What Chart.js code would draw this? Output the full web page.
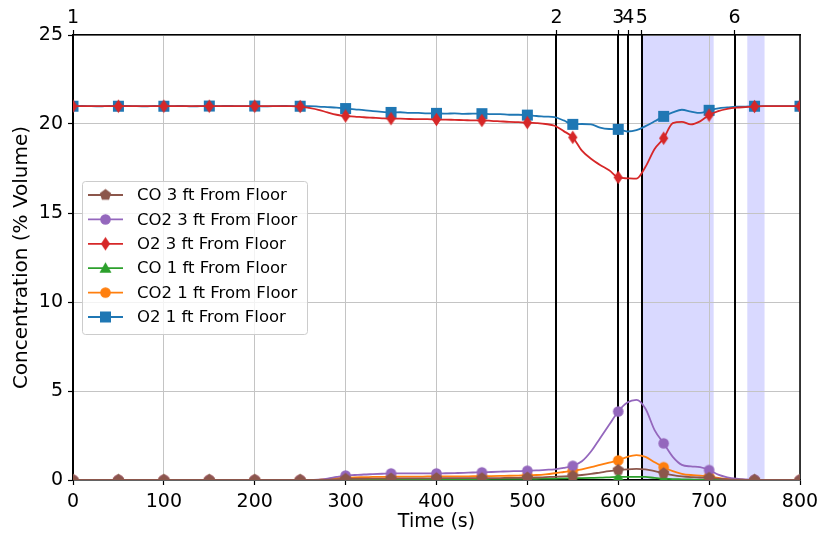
<!DOCTYPE html>
<html>
<head>
<meta charset="utf-8">
<script src="https://cdn.jsdelivr.net/npm/chart.js@4"></script>
<style>
  html, body { margin: 0; padding: 0; background: #fff; }
</style>
</head>
<body>
<canvas id="chart" width="821" height="539"></canvas>
<script>
// time axis (s)
const times = [
  0, 10, 20, 30, 40, 50, 60, 70, 80, 90,
  100, 110, 120, 130, 140, 150, 160, 170, 180, 190,
  200, 210, 220, 230, 240, 250, 260, 270, 280, 290,
  300, 310, 320, 330, 340, 350, 360, 370, 380, 390,
  400, 410, 420, 430, 440, 450, 460, 470, 480, 490,
  500, 510, 520, 530, 540, 550, 560, 570, 580, 590,
  600, 610, 620, 630, 640, 650, 660, 670, 680, 690,
  700, 710, 720, 730, 740, 750, 760, 770, 780, 790,
  800
];

const co3ft = [
  0, 0, 0, 0, 0, 0, 0, 0, 0, 0,
  0, 0, 0, 0, 0, 0, 0, 0, 0, 0,
  0, 0, 0, 0, 0, 0, 0, 0, 0.02, 0.04,
  0.06, 0.07, 0.07, 0.08, 0.08, 0.08, 0.09, 0.09, 0.09, 0.09,
  0.1, 0.1, 0.1, 0.1, 0.1, 0.1, 0.11, 0.11, 0.12, 0.12,
  0.13, 0.14, 0.16, 0.18, 0.2, 0.23, 0.28, 0.34, 0.42, 0.5,
  0.56, 0.6, 0.62, 0.6, 0.5, 0.38, 0.27, 0.2, 0.16, 0.14,
  0.12, 0.08, 0.04, 0.02, 0.01, 0, 0, 0, 0, 0,
  0
];

const co2_3ft = [
  0, 0, 0, 0, 0, 0, 0, 0, 0, 0,
  0, 0, 0, 0, 0, 0, 0, 0, 0, 0,
  0, 0, 0, 0, 0, 0, 0, 0.02, 0.08, 0.17,
  0.25, 0.28, 0.31, 0.33, 0.35, 0.37, 0.37, 0.37, 0.37, 0.37,
  0.37, 0.38, 0.39, 0.4, 0.42, 0.43, 0.45, 0.47, 0.49, 0.5,
  0.52, 0.54, 0.57, 0.6, 0.68, 0.8, 1.05, 1.6, 2.35, 3.1,
  3.85, 4.35, 4.5, 4.0, 2.8, 2.06, 1.3, 0.85, 0.76, 0.72,
  0.56, 0.3, 0.15, 0.07, 0.03, 0.02, 0, 0, 0, 0,
  0
];

const o2_3ft = [
  21, 21, 21, 21, 21, 21, 21, 21, 21, 21,
  21, 21, 21, 21, 21, 21, 21, 21, 21, 21,
  21, 21, 21, 21, 21, 20.98, 20.9, 20.8, 20.65, 20.52,
  20.45, 20.42, 20.38, 20.35, 20.32, 20.3, 20.3, 20.28, 20.27, 20.27,
  20.25, 20.25, 20.23, 20.22, 20.2, 20.2, 20.18, 20.15, 20.12, 20.1,
  20.08, 20.05, 20.0, 19.9, 19.6, 19.25, 18.5, 18.05, 17.7, 17.4,
  17.0, 16.95, 16.93, 17.6, 18.6, 19.2, 20.05, 20.12, 19.98, 20.15,
  20.5, 20.72, 20.85, 20.92, 20.95, 20.98, 21, 21, 21, 21,
  21
];

const co1ft = [
  0, 0, 0, 0, 0, 0, 0, 0, 0, 0,
  0, 0, 0, 0, 0, 0, 0, 0, 0, 0,
  0, 0, 0, 0, 0, 0, 0, 0, 0, 0.01,
  0.02, 0.02, 0.03, 0.03, 0.03, 0.03, 0.04, 0.04, 0.04, 0.04,
  0.05, 0.05, 0.05, 0.05, 0.05, 0.05, 0.06, 0.06, 0.06, 0.07,
  0.07, 0.07, 0.08, 0.08, 0.09, 0.1, 0.11, 0.12, 0.13, 0.15,
  0.17, 0.18, 0.18, 0.17, 0.12, 0.08, 0.05, 0.04, 0.03, 0.02,
  0.02, 0.01, 0, 0, 0, 0, 0, 0, 0, 0,
  0
];

const co2_1ft = [
  0, 0, 0, 0, 0, 0, 0, 0, 0, 0,
  0, 0, 0, 0, 0, 0, 0, 0, 0, 0,
  0, 0, 0, 0, 0, 0, 0, 0.01, 0.05, 0.1,
  0.13, 0.15, 0.16, 0.17, 0.18, 0.18, 0.19, 0.19, 0.19, 0.2,
  0.2, 0.2, 0.2, 0.2, 0.21, 0.21, 0.22, 0.23, 0.24, 0.25,
  0.26, 0.28, 0.32, 0.38, 0.45, 0.52, 0.6, 0.72, 0.85, 0.98,
  1.1, 1.3, 1.4, 1.3, 1.0, 0.72, 0.5, 0.35, 0.28, 0.25,
  0.2, 0.12, 0.06, 0.03, 0.01, 0, 0, 0, 0, 0,
  0
];

const o2_1ft = [
  21.0, 21.02, 21.0, 20.99, 21.01, 21.0, 21.02, 21.0, 20.99, 21.01,
  21.0, 21.0, 21.02, 20.99, 21.0, 21.01, 21.0, 21.02, 21.0, 21.0,
  21.01, 20.99, 21.0, 21.02, 21.0, 21.0, 21.0, 20.98, 20.95, 20.92,
  20.87, 20.82, 20.78, 20.72, 20.68, 20.65, 20.66, 20.63, 20.62, 20.6,
  20.6, 20.58, 20.6, 20.57, 20.58, 20.58, 20.55, 20.55, 20.52, 20.52,
  20.5, 20.45, 20.42, 20.38, 20.2, 19.98, 20.0, 19.98, 19.8, 19.72,
  19.7, 19.58, 19.65, 19.88, 20.15, 20.43, 20.65, 20.8, 20.7, 20.62,
  20.77, 20.88, 20.93, 20.97, 20.98, 21.0, 21.0, 21.0, 21.0, 21.0,
  21.0
];

// event markers on the top axis
const eventTimes = [0, 532, 600, 611, 626, 728];
const eventLabels = ['1', '2', '3', '4', '5', '6'];
const shadedSpans = [[626, 705], [742, 761]];

const yTicks = [0, 5, 10, 15, 20, 25];

const FONT = "'DejaVu Sans', sans-serif";
const GRID = '#c4c4c4';

function makeMarker(shape, color) {
    const c = document.createElement('canvas');
    c.width = 15;
    c.height = 15;
    const g = c.getContext('2d');
    const m = 7.5;
    g.fillStyle = color;
    g.beginPath();
    if (shape === 'square') {
        g.rect(2, 2, 11, 11);
    } else if (shape === 'circle') {
        g.arc(m, m, 5.3, 0, Math.PI * 2);
    } else if (shape === 'diamond') {
        g.moveTo(m, 0.8); g.lineTo(m + 4.6, m); g.lineTo(m, 14.2); g.lineTo(m - 4.6, m);
    } else if (shape === 'triangle') {
        g.moveTo(m, 1.5); g.lineTo(m + 6, 12); g.lineTo(m - 6, 12);
    } else if (shape === 'pentagon') {
        for (let k = 0; k < 5; k++) {
            const a = -Math.PI / 2 + k * 2 * Math.PI / 5;
            const px = m + 6 * Math.cos(a), py = m + 6 * Math.sin(a);
            if (k === 0) g.moveTo(px, py); else g.lineTo(px, py);
        }
    }
    g.closePath();
    g.fill();
    return c;
}

function series(label, values, color, shape) {
    const marker = makeMarker(shape, color);
    return {
        label: label,
        data: times.map((t, i) => ({ x: t, y: values[i] })),
        borderColor: color,
        backgroundColor: color,
        borderWidth: 1.8,
        cubicInterpolationMode: 'monotone',
        pointStyle: marker,
        pointRadius: (ctx) => (times[ctx.dataIndex] % 50 === 0 ? 6 : 0),
        pointHoverRadius: 0,
        xAxisID: 'x',
        yAxisID: 'y',
        marker: marker
    };
}

const datasets = [
    series('CO 3 ft From Floor', co3ft, '#8c564b', 'pentagon'),
    series('CO2 3 ft From Floor', co2_3ft, '#9467bd', 'circle'),
    series('O2 3 ft From Floor', o2_3ft, '#d62728', 'diamond'),
    series('CO 1 ft From Floor', co1ft, '#2ca02c', 'triangle'),
    series('CO2 1 ft From Floor', co2_1ft, '#ff7f0e', 'circle'),
    series('O2 1 ft From Floor', o2_1ft, '#1f77b4', 'square')
];

// shaded intervals behind everything
const shadePlugin = {
    id: 'shade',
    beforeDraw(chart) {
        const { ctx, chartArea: a, scales: { x } } = chart;
        ctx.save();
        ctx.fillStyle = 'rgba(0, 0, 255, 0.15)';
        shadedSpans.forEach(([s, e]) => {
            const x0 = x.getPixelForValue(s), x1 = x.getPixelForValue(e);
            ctx.fillRect(x0, a.top, x1 - x0, a.bottom - a.top);
        });
        ctx.restore();
    }
};

// vertical event lines + right spine
const eventPlugin = {
    id: 'events',
    beforeDatasetsDraw(chart) {
        const { ctx, chartArea: a, scales: { x } } = chart;
        ctx.save();
        ctx.strokeStyle = '#000';
        ctx.lineWidth = 2;
        eventTimes.forEach((t) => {
            const px = Math.round(x.getPixelForValue(t));
            ctx.beginPath();
            ctx.moveTo(px, a.top);
            ctx.lineTo(px, a.bottom);
            ctx.stroke();
        });
        ctx.lineWidth = 1.5;
        ctx.beginPath();
        ctx.moveTo(a.right, a.top);
        ctx.lineTo(a.right, a.bottom);
        ctx.stroke();
        ctx.restore();
    }
};

// matplotlib-like legend inside the plot area
const legendPlugin = {
    id: 'boxLegend',
    afterDraw(chart) {
        const { ctx, chartArea: a } = chart;
        const left = a.left + 9, top = a.top + 146;
        const w = 225, h = 153;
        ctx.save();
        ctx.beginPath();
        ctx.roundRect(left + 0.5, top + 0.5, w, h, 3);
        ctx.fillStyle = 'rgba(255, 255, 255, 0.8)';
        ctx.fill();
        ctx.strokeStyle = '#cccccc';
        ctx.lineWidth = 1;
        ctx.stroke();
        ctx.font = '16.5px ' + FONT;
        ctx.textBaseline = 'middle';
        chart.data.datasets.forEach((ds, i) => {
            const y = top + 14 + i * 24.4;
            ctx.strokeStyle = ds.borderColor;
            ctx.lineWidth = 1.8;
            ctx.beginPath();
            ctx.moveTo(left + 6, y);
            ctx.lineTo(left + 41, y);
            ctx.stroke();
            ctx.drawImage(ds.marker, left + 23.5 - 7.5, y - 7.5);
            ctx.fillStyle = '#000';
            ctx.fillText(ds.label, left + 55, y + 1);
        });
        ctx.restore();
    }
};

const tickFont = { family: FONT, size: 19 };

// pin the axis boxes so the plot area lands where the reference has it
function pinSize(prop, size) {
    return (s) => {
        s[prop] = size;
        s.paddingLeft = 0;
        s.paddingRight = 0;
        s.paddingTop = 0;
        s.paddingBottom = 0;
    };
}

new Chart(document.getElementById('chart'), {
    type: 'line',
    data: { datasets: datasets },
    options: {
        responsive: false,
        animation: false,
        events: [],
        layout: { padding: { left: 0, right: 21, top: 0, bottom: 0 } },
        plugins: { legend: { display: false }, tooltip: { enabled: false } },
        scales: {
            x: {
                type: 'linear',
                position: 'bottom',
                min: 0,
                max: 800,
                ticks: { stepSize: 100, color: '#000', font: tickFont, padding: 6, maxRotation: 0 },
                grid: { color: GRID, lineWidth: 1, tickColor: '#000', tickLength: 5, tickWidth: 1.2 },
                border: { color: '#000', width: 1.5 },
                title: { display: true, text: 'Time (s)', color: '#000', font: { family: FONT, size: 19 }, padding: { top: 0, bottom: 6 } },
                afterFit: pinSize('height', 59)
            },
            x2: {
                type: 'linear',
                position: 'top',
                min: 0,
                max: 800,
                afterBuildTicks: (s) => { s.ticks = eventTimes.map((v) => ({ value: v })); },
                ticks: {
                    autoSkip: false,
                    maxRotation: 0,
                    color: '#000',
                    font: tickFont,
                    padding: 1,
                    callback: (v, i) => eventLabels[i]
                },
                grid: { drawOnChartArea: false, tickColor: '#000', tickLength: 5, tickWidth: 1.2 },
                border: { color: '#000', width: 1.5 },
                afterFit: pinSize('height', 35)
            },
            y: {
                min: 0,
                max: 25,
                afterBuildTicks: (s) => { s.ticks = yTicks.map((v) => ({ value: v })); },
                ticks: { color: '#000', font: tickFont, padding: 5 },
                grid: { color: GRID, lineWidth: 1, tickColor: '#000', tickLength: 5, tickWidth: 1.2 },
                border: { color: '#000', width: 1.5 },
                title: { display: true, text: 'Concentration (% Volume)', color: '#000', font: { family: FONT, size: 20 }, padding: { top: 10, bottom: 0 } },
                afterFit: pinSize('width', 73)
            }
        }
    },
    plugins: [shadePlugin, eventPlugin, legendPlugin]
});
</script>
</body>
</html>
